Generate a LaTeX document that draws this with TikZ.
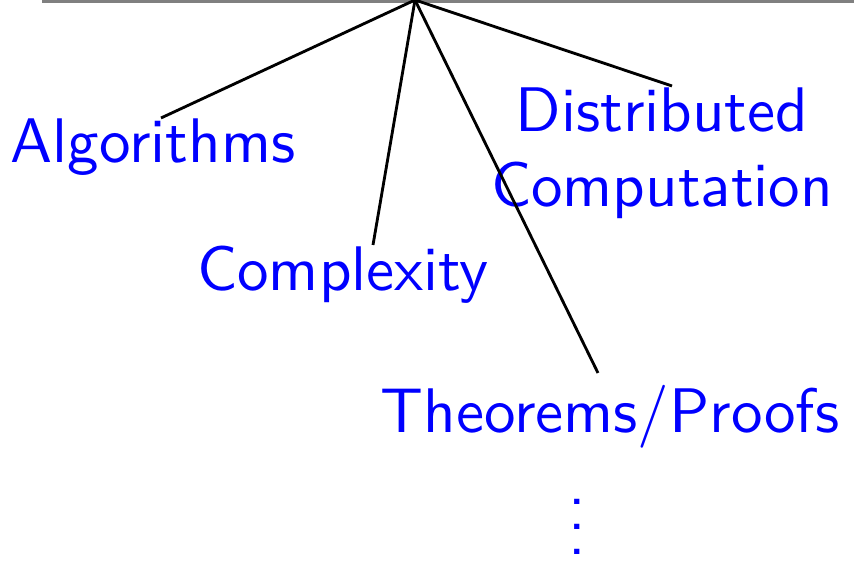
\documentclass[tikz,border=0pt]{standalone}
\usepackage{fontspec}
\tikzset{
  topic/.style={text=blue, font=\sffamily, inner sep=0pt, anchor=base},
  branch/.style={black, line width=0.45pt},
}
\begin{document}
\begin{tikzpicture}[x=0.1587pt, y=-0.1587pt]
  \useasboundingbox (0,0) rectangle (854,561);
  % rule on top
  \draw[gray, line width=0.5pt] (42,1.5) -- (854,1.5);
  \coordinate (root) at (415,0);

  % topics
  \node[topic] (alg) at (153,163) {Algorithms};
  \node[topic] (cplx) at (343,291) {Complexity};
  \node[topic, align=center] (dist) at (662,207) {Distributed\\Computation};
  \node[topic] (thm) at (610,433) {Theorems/Proofs};
  \node[topic] (dots) at (577,555) {\vdots};

  % where the branches stop
  \coordinate (alg-end) at (161,118);
  \coordinate (cplx-end) at (373,245);
  \coordinate (dist-end) at (672,86);
  \coordinate (thm-end) at (598,373);

  \draw[branch] (root) -- (alg-end);
  \draw[branch] (root) -- (cplx-end);
  \draw[branch] (root) -- (thm-end);
  \draw[branch] (root) -- (dist-end);
\end{tikzpicture}
\end{document}
